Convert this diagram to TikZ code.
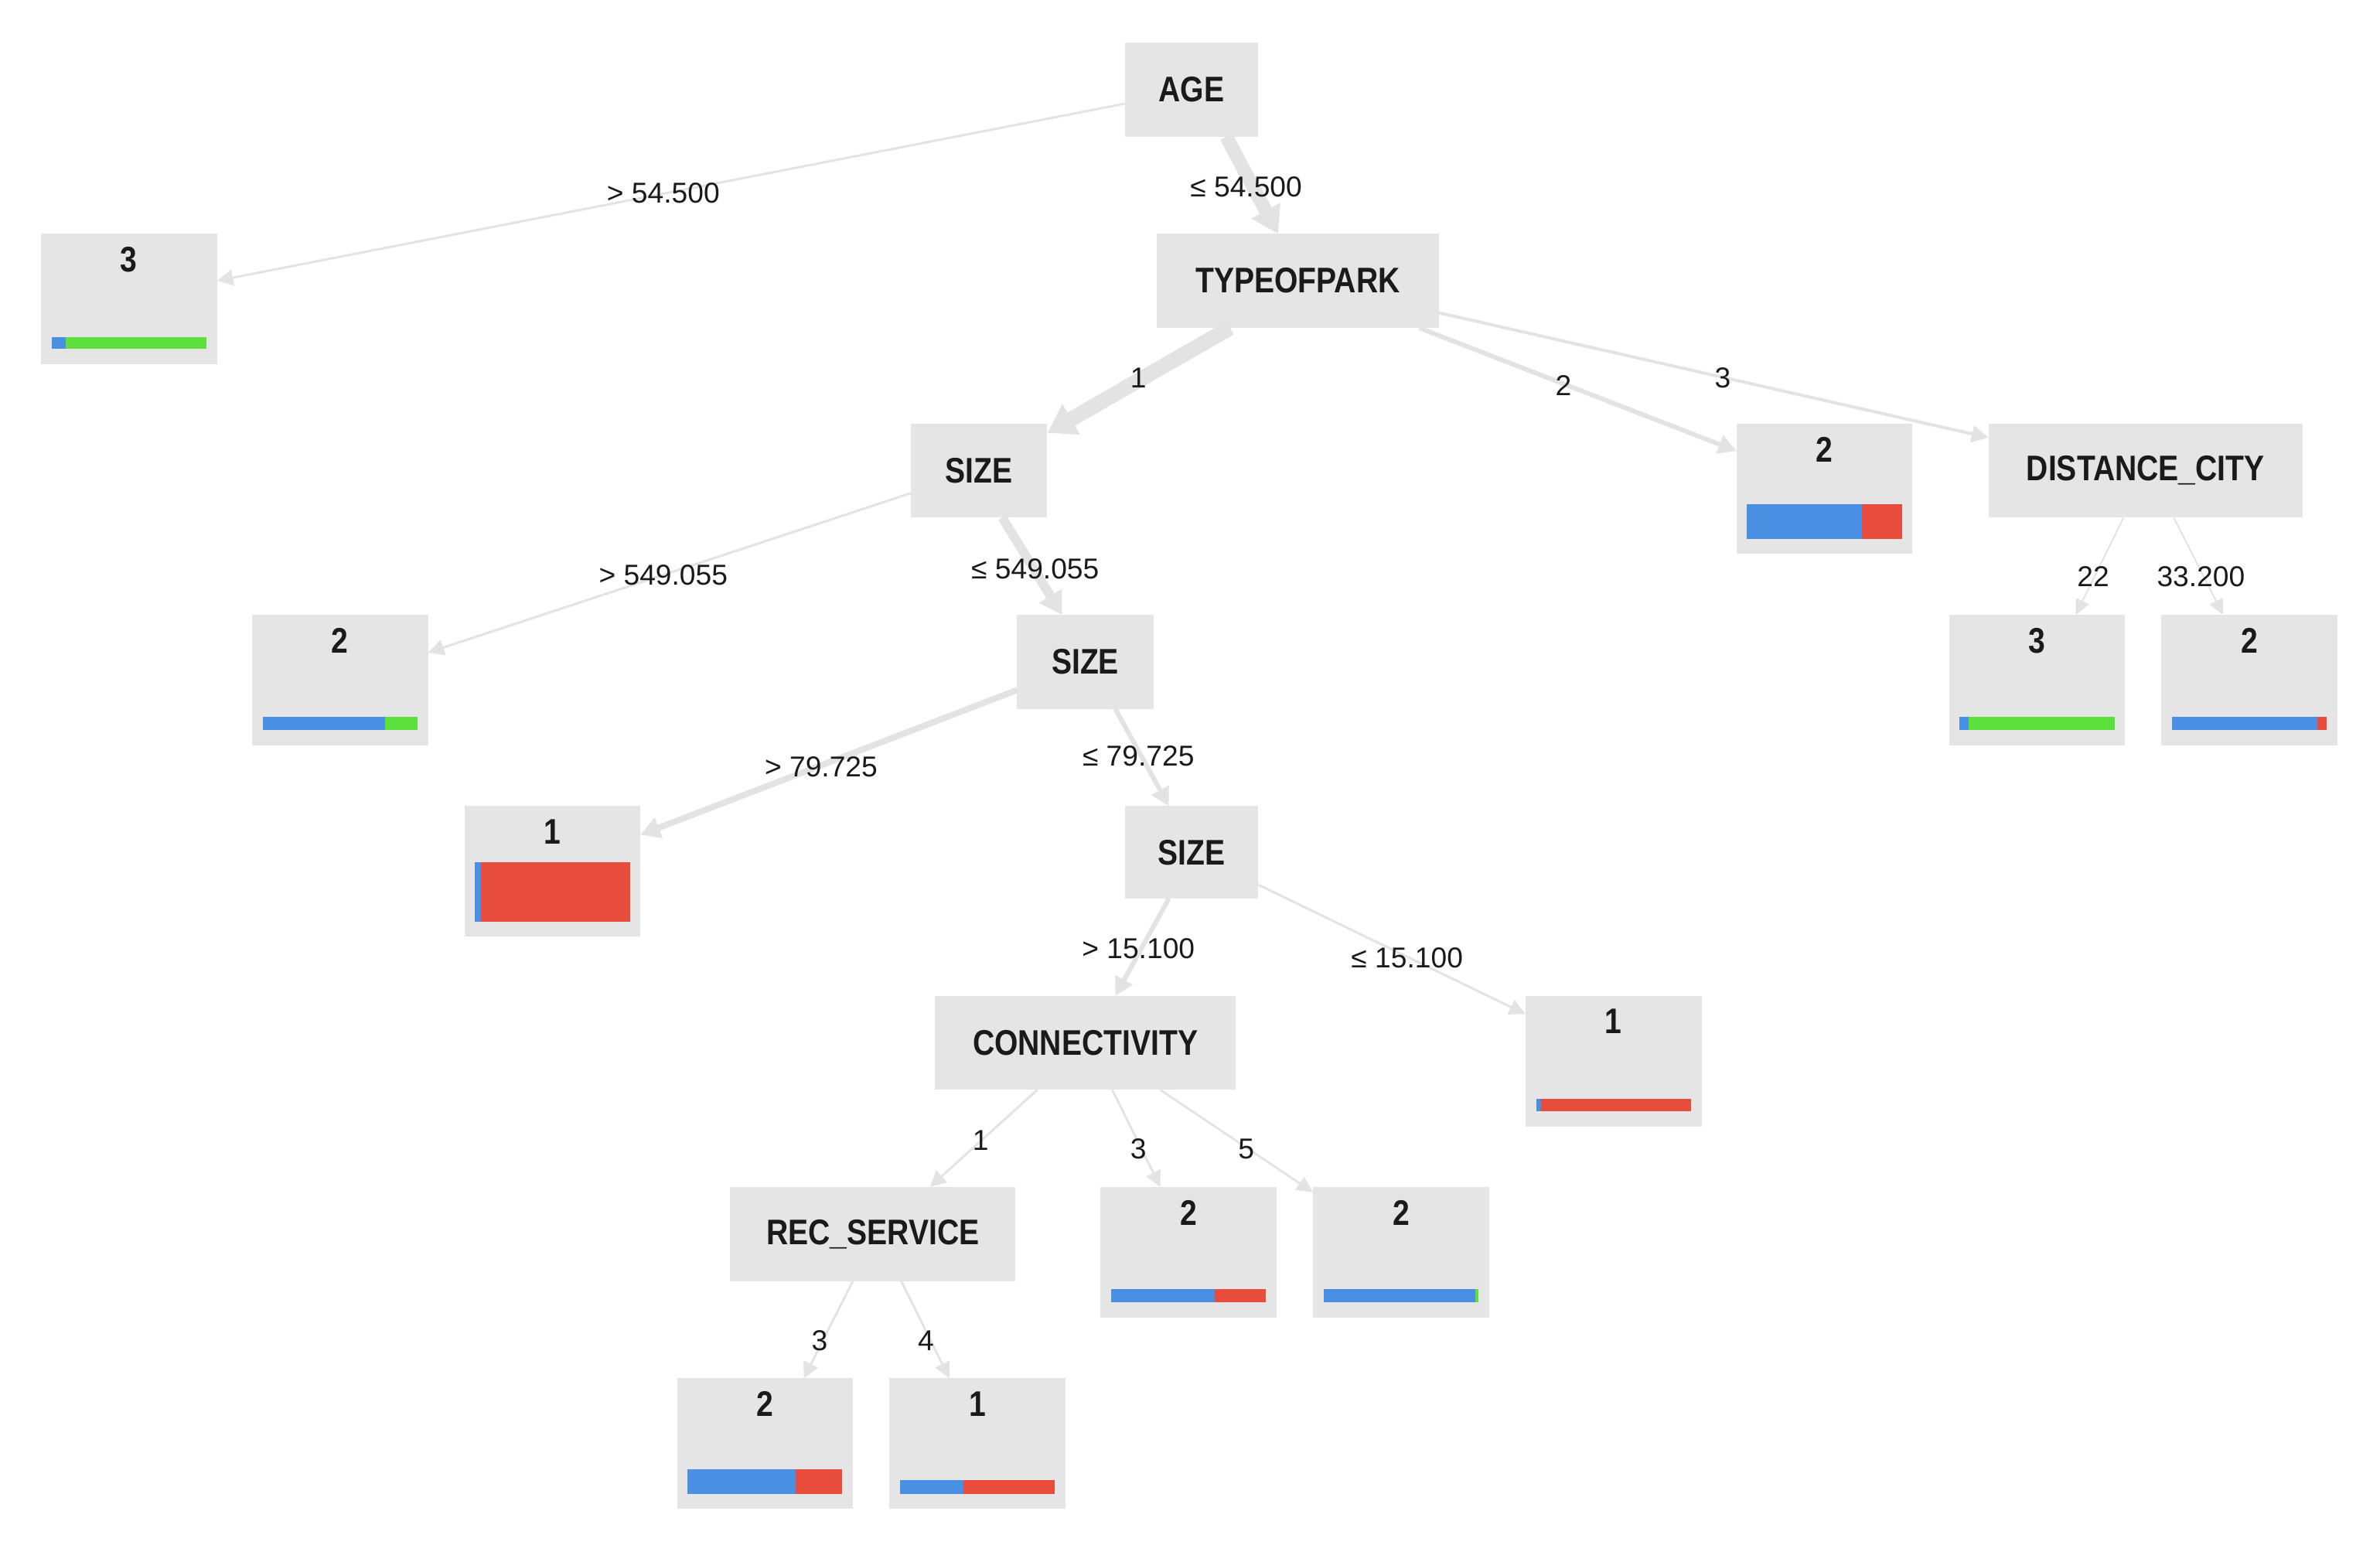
\documentclass[tikz,border=0pt]{standalone}
\usepackage{fontspec}
\setmainfont{Liberation Sans}
\newfontfamily\nodefont[FakeStretch=0.85]{Liberation Sans}
\usetikzlibrary{calc,arrows.meta}
\definecolor{boxgray}{HTML}{E5E5E5}
\definecolor{edgegray}{HTML}{E3E3E3}
\definecolor{barblue}{HTML}{4A90E2}
\definecolor{barred}{HTML}{E74C3C}
\definecolor{bargreen}{HTML}{5EE03C}
\definecolor{txt}{HTML}{1A1A1A}
\tikzset{
  inner/.style={fill=boxgray, inner sep=0pt, outer sep=0pt, anchor=north west,
    minimum height=62*0.4908pt, text=txt,
    font=\nodefont\fontsize{11.5}{13}\selectfont\bfseries},
  leaf/.style={fill=boxgray, inner sep=0pt, outer sep=0pt, anchor=north west,
    minimum width=116*0.4908pt, minimum height=86*0.4908pt},
  num/.style={inner sep=0pt, text=txt, font=\nodefont\fontsize{11.5}{13}\selectfont\bfseries},
  lbl/.style={inner sep=0pt, text=txt, font=\fontsize{9.3}{11}\selectfont},
  edge/.style={draw=edgegray, line width=#1,
    -{Triangle[length=4.5pt 0.9, width=4pt 1.4]}},
}
\newcommand\leafnode[7]{%
  \node[leaf] (#1) at (#2,#3) {};
  \node[num] (#1n) at ($(#1.north)+(0,17)$) {#4};
  \fill[barblue] ($(#1.south west)+(7,-10)$) rectangle ($(#1.south west)+({7+102*#5},{-10-#7})$);
  \fill[#6] ($(#1.south west)+({7+102*#5},-10)$) rectangle ($(#1.south west)+(109,{-10-#7})$);
}
\begin{document}
\begin{tikzpicture}[x=0.4908pt,y=-0.4908pt]
\useasboundingbox[fill=white] (0,0) rectangle (1568,1022);

% inner nodes
\node[inner, minimum width=88*0.4908pt] (age) at (741,28) {AGE};
\node[inner, minimum width=186*0.4908pt] (top) at (762,154) {TYPEOFPARK};
\node[inner, minimum width=90*0.4908pt] (s1) at (600,279) {SIZE};
\node[inner, minimum width=207*0.4908pt] (dc) at (1310,279) {DISTANCE\_CITY};
\node[inner, minimum width=90*0.4908pt] (s2) at (670,405) {SIZE};
\node[inner, minimum width=88*0.4908pt, minimum height=61*0.4908pt] (s3) at (741,531) {SIZE};
\node[inner, minimum width=198*0.4908pt] (conn) at (616,656) {CONNECTIVITY};
\node[inner, minimum width=188*0.4908pt] (rec) at (481,782) {REC\_SERVICE};

% leaves: name, x, y, label, blue fraction, other colour, bar thickness
\leafnode{la}{27}{154}{3}{0.09}{bargreen}{8}
\leafnode{lb}{1144}{279}{2}{0.74}{barred}{23}
\leafnode{lc}{166}{405}{2}{0.79}{bargreen}{9}
\leafnode{ld}{1284}{405}{3}{0.06}{bargreen}{9}
\leafnode{le}{1424}{405}{2}{0.94}{barred}{9}
\leafnode{lf}{306}{531}{1}{0.04}{barred}{39}
\leafnode{lg}{1005}{656}{1}{0.03}{barred}{8}
\leafnode{lh}{725}{782}{2}{0.67}{barred}{9}
\leafnode{li}{865}{782}{2}{0.98}{bargreen}{9}
\leafnode{lj}{446}{908}{2}{0.70}{barred}{16}
\leafnode{lk}{586}{908}{1}{0.41}{barred}{9}

% edges
\draw[edge=0.75pt] ($(age.north west)!0.65!(age.south west)$) -- ($(la.north east)!0.36!(la.south east)$);
\draw[edge=4.4pt] ($(age.south west)!0.76!(age.south east)$) -- ($(top.north west)!0.43!(top.north east)$);
\draw[edge=4.9pt] ($(top.south west)!0.26!(top.south east)$) -- ($(s1.north east)!0.1!(s1.south east)$);
\draw[edge=1.5pt] ($(top.south west)!0.93!(top.south east)$) -- ($(lb.north west)!0.21!(lb.south west)$);
\draw[edge=1pt] ($(top.north east)!0.84!(top.south east)$) -- ($(dc.north west)!0.15!(dc.south west)$);
\draw[edge=0.75pt] ($(s1.north west)!0.74!(s1.south west)$) -- ($(lc.north east)!0.29!(lc.south east)$);
\draw[edge=3pt] ($(s1.south west)!0.67!(s1.south east)$) -- ($(s2.north west)!0.33!(s2.north east)$);
\draw[edge=2pt] ($(s2.north west)!0.8!(s2.south west)$) -- ($(lf.north east)!0.22!(lf.south east)$);
\draw[edge=1.5pt] ($(s2.south west)!0.72!(s2.south east)$) -- ($(s3.north west)!0.33!(s3.north east)$);
\draw[edge=1.5pt] ($(s3.south west)!0.33!(s3.south east)$) -- ($(conn.north west)!0.6!(conn.north east)$);
\draw[edge=0.75pt] ($(s3.north east)!0.85!(s3.south east)$) -- ($(lg.north west)!0.14!(lg.south west)$);
\draw[edge=0.75pt] ($(conn.south west)!0.34!(conn.south east)$) -- ($(rec.north west)!0.70!(rec.north east)$);
\draw[edge=0.7pt] ($(conn.south west)!0.59!(conn.south east)$) -- ($(lh.north west)!0.34!(lh.north east)$);
\draw[edge=0.7pt] ($(conn.south west)!0.75!(conn.south east)$) -- ($(li.north west)!0.04!(li.south west)$);
\draw[edge=0.7pt] ($(rec.south west)!0.43!(rec.south east)$) -- ($(lj.north west)!0.72!(lj.north east)$);
\draw[edge=0.7pt] ($(rec.south west)!0.6!(rec.south east)$) -- ($(lk.north west)!0.34!(lk.north east)$);
\draw[edge=0.5pt] ($(dc.south west)!0.43!(dc.south east)$) -- ($(ld.north west)!0.72!(ld.north east)$);
\draw[edge=0.5pt] ($(dc.south west)!0.59!(dc.south east)$) -- ($(le.north west)!0.35!(le.north east)$);

% edge labels
\node[lbl] (t1) at (437,127) {> 54.500};
\node[lbl] (t2) at (821,123) {≤ 54.500};
\node[lbl] (t3) at (750,249) {1};
\node[lbl] (t4) at (1030,254) {2};
\node[lbl] (t5) at (1135,249) {3};
\node[lbl] (t6) at (437,379) {> 549.055};
\node[lbl] (t7) at (682,375) {≤ 549.055};
\node[lbl] (t8) at (1379,380) {22};
\node[lbl] (t9) at (1450,380) {33.200};
\node[lbl] (t10) at (541,505) {> 79.725};
\node[lbl] (t11) at (750,498) {≤ 79.725};
\node[lbl] (t12) at (750,625) {> 15.100};
\node[lbl] (t13) at (927,631) {≤ 15.100};
\node[lbl] (t14) at (646,751) {1};
\node[lbl] (t15) at (750,757) {3};
\node[lbl] (t16) at (821,757) {5};
\node[lbl] (t17) at (540,883) {3};
\node[lbl] (t18) at (610,883) {4};
\end{tikzpicture}
\end{document}
